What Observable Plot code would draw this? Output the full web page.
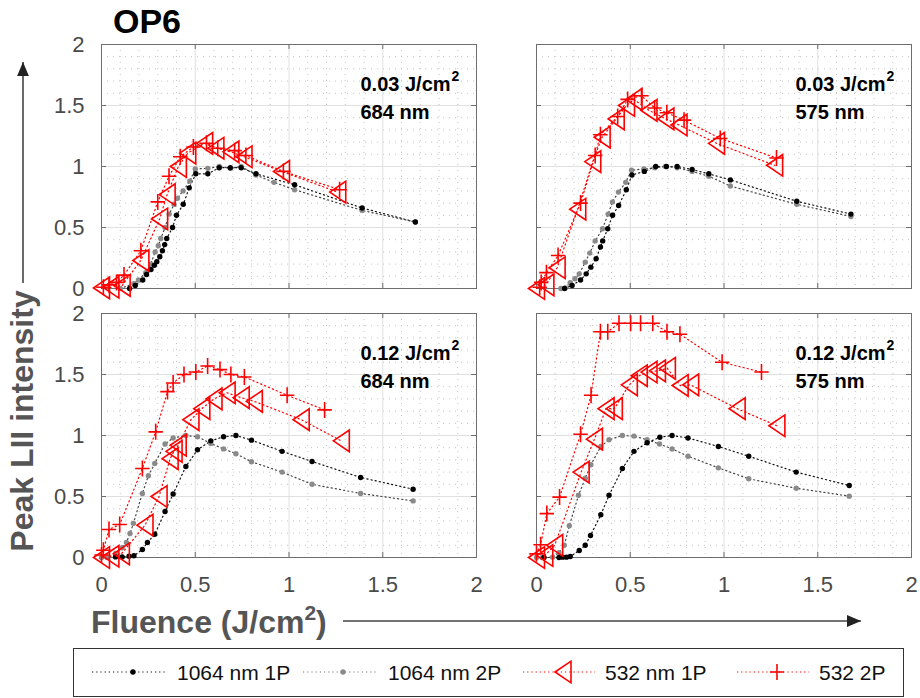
<!DOCTYPE html>
<html><head><meta charset="utf-8">
<script src="https://cdn.jsdelivr.net/npm/d3@7"></script>
<script src="https://cdn.jsdelivr.net/npm/@observablehq/plot@0.6"></script>
<style>
body{margin:0;background:#fff;font-family:"Liberation Sans",Arial,sans-serif;}
#wrap{position:relative;width:920px;height:698px;overflow:hidden;}
#overlay{position:absolute;left:0;top:0;pointer-events:none;}
</style></head><body><div id="wrap"></div>
<script>
// ---------- data ----------
const columns = ["684", "575"];            // detection wavelength (nm) per panel column
const rows = ["0.03", "0.12"];             // fluence (J/cm²) per panel row
const seriesNames = ["1064 nm 1P", "1064 nm 2P", "532 nm 1P", "532 2P"];
const xTicks = [0, 0.5, 1, 1.5, 2];
const xTickLabels = ["0", "0.5", "1", "1.5", "2"];
const yTicks = [0, 0.5, 1, 1.5, 2];
const yTickLabels = ["0", "0.5", "1", "1.5", "2"];
const minorTicks = [0.1,0.2,0.3,0.4,0.6,0.7,0.8,0.9,1.1,1.2,1.3,1.4,1.6,1.7,1.8,1.9];

// row 0.03 J/cm², column 684 nm
const f003_684_1064_1P = [[0.15,0.0],[0.18,0.025],[0.22,0.07],[0.24,0.115],[0.264,0.156],[0.282,0.19],[0.295,0.22],[0.311,0.26],[0.325,0.31],[0.337,0.36],[0.348,0.41],[0.379,0.5],[0.40,0.6],[0.436,0.69],[0.468,0.825],[0.503,0.94],[0.567,0.94],[0.628,0.99],[0.687,0.99],[0.745,0.99],[0.824,0.94],[1.03,0.85],[1.39,0.66],[1.674,0.545]];
const f003_684_1064_2P = [[0.1,0.0],[0.173,0.04],[0.197,0.07],[0.236,0.13],[0.263,0.2],[0.286,0.3],[0.303,0.35],[0.316,0.41],[0.339,0.5],[0.361,0.61],[0.387,0.69],[0.405,0.74],[0.435,0.8],[0.471,0.88],[0.50,0.98],[0.567,0.985],[0.628,1.0],[0.687,0.985],[0.745,1.0],[0.824,0.93],[0.92,0.87],[1.03,0.81],[1.39,0.64],[1.674,0.545]];
const f003_684_532_1P = [[0.0,0.005],[0.05,0.01],[0.11,0.025],[0.21,0.23],[0.31,0.57],[0.35,0.77],[0.41,1.0],[0.46,1.11],[0.55,1.19],[0.61,1.15],[0.69,1.12],[0.76,1.08],[0.96,0.96],[1.26,0.79]];
const f003_684_532_2P = [[0.01,0.01],[0.04,0.03],[0.08,0.05],[0.12,0.11],[0.21,0.31],[0.30,0.71],[0.36,0.92],[0.42,1.08],[0.49,1.16],[0.56,1.19],[0.62,1.15],[0.71,1.13],[0.77,1.09],[0.97,0.96],[1.27,0.81]];

// row 0.03 J/cm², column 575 nm
const f003_575_1064_1P = [[0.15,0.0],[0.19,0.025],[0.235,0.07],[0.265,0.12],[0.29,0.175],[0.318,0.244],[0.341,0.34],[0.353,0.39],[0.38,0.49],[0.406,0.6],[0.438,0.68],[0.479,0.81],[0.509,0.93],[0.575,0.96],[0.636,1.0],[0.693,1.0],[0.75,1.0],[0.83,0.975],[0.919,0.94],[1.034,0.89],[1.388,0.715],[1.677,0.61]];
const f003_575_1064_2P = [[0.13,0.0],[0.153,0.005],[0.18,0.047],[0.205,0.08],[0.228,0.12],[0.26,0.216],[0.284,0.29],[0.313,0.39],[0.352,0.49],[0.382,0.61],[0.405,0.71],[0.437,0.79],[0.476,0.87],[0.507,0.97],[0.573,0.98],[0.631,0.99],[0.688,1.0],[0.75,0.99],[0.83,0.96],[0.919,0.92],[1.034,0.84],[1.388,0.69],[1.677,0.59]];
const f003_575_532_1P = [[0.0,0.0],[0.05,0.03],[0.11,0.17],[0.22,0.65],[0.30,1.04],[0.35,1.24],[0.425,1.39],[0.48,1.5],[0.52,1.55],[0.60,1.46],[0.69,1.39],[0.76,1.34],[0.96,1.19],[1.27,1.01]];
const f003_575_532_2P = [[0.017,0.01],[0.025,0.05],[0.053,0.13],[0.115,0.27],[0.235,0.70],[0.313,1.09],[0.341,1.26],[0.433,1.41],[0.486,1.55],[0.56,1.58],[0.63,1.48],[0.695,1.44],[0.787,1.38],[0.98,1.23],[1.28,1.07]];

// row 0.12 J/cm², column 684 nm
const f012_684_1064_1P = [[0.075,0.005],[0.11,0.005],[0.147,0.01],[0.173,0.014],[0.218,0.066],[0.245,0.123],[0.284,0.19],[0.339,0.377],[0.382,0.52],[0.45,0.746],[0.512,0.883],[0.583,0.956],[0.651,0.99],[0.717,1.0],[0.80,0.962],[0.963,0.87],[1.123,0.787],[1.382,0.656],[1.662,0.56]];
const f012_684_1064_2P = [[0.0,0.0],[0.03,0.0],[0.075,0.033],[0.11,0.08],[0.133,0.123],[0.152,0.197],[0.17,0.28],[0.218,0.525],[0.25,0.67],[0.284,0.77],[0.339,0.93],[0.382,0.98],[0.45,1.0],[0.512,0.99],[0.583,0.935],[0.651,0.89],[0.717,0.85],[0.80,0.785],[0.963,0.70],[1.123,0.60],[1.382,0.525],[1.662,0.464]];
const f012_684_532_1P = [[0.0,0.0],[0.05,0.01],[0.106,0.03],[0.232,0.265],[0.307,0.50],[0.366,0.81],[0.387,0.87],[0.409,0.92],[0.477,1.13],[0.535,1.22],[0.60,1.30],[0.67,1.35],[0.745,1.31],[0.815,1.28],[1.065,1.13],[1.279,0.956]];
const f012_684_532_2P = [[0.0,0.02],[0.01,0.06],[0.04,0.23],[0.097,0.27],[0.218,0.73],[0.289,1.03],[0.352,1.36],[0.382,1.43],[0.44,1.5],[0.503,1.52],[0.566,1.57],[0.632,1.54],[0.69,1.5],[0.762,1.48],[0.99,1.33],[1.19,1.21]];

// row 0.12 J/cm², column 575 nm
const f012_575_1064_1P = [[0.04,0.0],[0.12,0.0],[0.14,0.003],[0.16,0.003],[0.18,0.008],[0.228,0.057],[0.26,0.10],[0.288,0.18],[0.343,0.35],[0.387,0.51],[0.458,0.73],[0.52,0.87],[0.59,0.94],[0.658,0.986],[0.723,1.0],[0.808,0.98],[0.97,0.91],[1.132,0.83],[1.385,0.70],[1.668,0.59]];
const f012_575_1064_2P = [[0.0,0.0],[0.03,0.0],[0.086,0.003],[0.12,0.04],[0.148,0.10],[0.175,0.26],[0.224,0.51],[0.26,0.65],[0.29,0.76],[0.343,0.91],[0.387,0.965],[0.458,1.0],[0.52,0.995],[0.59,0.965],[0.656,0.93],[0.723,0.89],[0.808,0.83],[0.97,0.735],[1.132,0.645],[1.385,0.568],[1.668,0.503]];
const f012_575_532_1P = [[0.0,0.0],[0.044,0.016],[0.097,0.10],[0.238,0.70],[0.309,0.97],[0.371,1.22],[0.415,1.22],[0.495,1.415],[0.548,1.49],[0.60,1.52],[0.645,1.53],[0.698,1.55],[0.766,1.41],[0.822,1.415],[1.07,1.22],[1.282,1.08]];
const f012_575_532_2P = [[0.0,0.03],[0.022,0.104],[0.055,0.36],[0.123,0.495],[0.235,1.01],[0.291,1.33],[0.341,1.85],[0.38,1.85],[0.44,1.92],[0.502,1.92],[0.555,1.92],[0.62,1.92],[0.696,1.85],[0.765,1.83],[0.99,1.60],[1.20,1.52]];

// ---------- tables built from the arrays ----------
const panelInfo = [
  {row: rows[0], col: columns[0], fluence: rows[0] + " J/cm", wave: columns[0] + " nm"},
  {row: rows[0], col: columns[1], fluence: rows[0] + " J/cm", wave: columns[1] + " nm"},
  {row: rows[1], col: columns[0], fluence: rows[1] + " J/cm", wave: columns[0] + " nm"},
  {row: rows[1], col: columns[1], fluence: rows[1] + " J/cm", wave: columns[1] + " nm"}
];
const sources = [
  [rows[0], columns[0], [f003_684_1064_1P, f003_684_1064_2P, f003_684_532_1P, f003_684_532_2P]],
  [rows[0], columns[1], [f003_575_1064_1P, f003_575_1064_2P, f003_575_532_1P, f003_575_532_2P]],
  [rows[1], columns[0], [f012_684_1064_1P, f012_684_1064_2P, f012_684_532_1P, f012_684_532_2P]],
  [rows[1], columns[1], [f012_575_1064_1P, f012_575_1064_2P, f012_575_532_1P, f012_575_532_2P]]
];
const table = [];
for (const [row, col, arrs] of sources) {
  arrs.forEach((pts, si) => pts.forEach(([x, y]) => table.push({row, col, series: seriesNames[si], x, y})));
}
const only = (s) => table.filter(d => d.series === s);

// custom marker shapes (MATLAB-like '<' and '+')
const triLeft = {draw(ctx, size) { const r = Math.sqrt(size / Math.PI); const w = r, h = r * 1.35;
  ctx.moveTo(-w, 0); ctx.lineTo(w, -h); ctx.lineTo(w, h); ctx.closePath(); }};
const plusSym = {draw(ctx, size) { const r = Math.sqrt(size / Math.PI);
  ctx.moveTo(-r * 0.9, 0); ctx.lineTo(r * 0.9, 0); ctx.moveTo(0, -r); ctx.lineTo(0, r); }};

const dash = "1.2,3";
const frameStroke = "#6e6e6e";
const common = {x: "x", y: "y", fx: "col", fy: "row"};
const annot = {fx: "col", fy: "row", frameAnchor: "top-left", textAnchor: "start", lineAnchor: "middle", fontWeight: "bold", fill: "#000"};

const chart = Plot.plot({
  width: 920, height: 645,
  marginTop: 44, marginBottom: 88, marginLeft: 101, marginRight: 9,
  style: {fontFamily: "'Liberation Sans', Arial, sans-serif", fontSize: "22px", background: "white", overflow: "visible"},
  fx: {domain: columns, paddingInner: 60 / 435, paddingOuter: 0, round: false, axis: null},
  fy: {domain: rows, paddingInner: 25 / 269, paddingOuter: 0, round: false, axis: null},
  x: {domain: [0, 2]},
  y: {domain: [0, 2]},
  marks: [
    Plot.gridX({ticks: minorTicks, stroke: "#c4c4c4", strokeOpacity: 1, strokeDasharray: "1,5"}),
    Plot.gridY({ticks: minorTicks, stroke: "#c4c4c4", strokeOpacity: 1, strokeDasharray: "1,5"}),
    Plot.gridX({ticks: xTicks, stroke: "#e0e0e0", strokeOpacity: 1}),
    Plot.gridY({ticks: yTicks, stroke: "#e0e0e0", strokeOpacity: 1}),
    Plot.frame({stroke: frameStroke}),
    Plot.tickX(xTicks, {x: d => d, insetTop: 239, stroke: frameStroke}),
    Plot.tickX(xTicks, {x: d => d, insetBottom: 239, stroke: frameStroke}),
    Plot.tickY(yTicks, {y: d => d, insetRight: 370, stroke: frameStroke}),
    Plot.tickY(yTicks, {y: d => d, insetLeft: 370, stroke: frameStroke}),
    Plot.axisX({ticks: xTicks, tickFormat: (d, i) => xTickLabels[i], tickSize: 0, tickPadding: 19, label: null, color: "#4a4a4a"}),
    Plot.axisY({ticks: yTicks, tickFormat: (d, i) => yTickLabels[i], tickSize: 0, tickPadding: 17, label: null, color: "#4a4a4a"}),
    // lines
    Plot.line(only(seriesNames[0]), {...common, stroke: "#111", strokeWidth: 1.2, strokeDasharray: dash}),
    Plot.line(only(seriesNames[1]), {...common, stroke: "#444", strokeWidth: 1.2, strokeDasharray: dash}),
    Plot.line(only(seriesNames[2]), {...common, stroke: "#ff0000", strokeWidth: 1.2, strokeDasharray: dash}),
    Plot.line(only(seriesNames[3]), {...common, stroke: "#ff0000", strokeWidth: 1.2, strokeDasharray: dash}),
    // markers
    Plot.dot(only(seriesNames[1]), {...common, r: 2.7, fill: "#8a8a8a", stroke: null}),
    Plot.dot(only(seriesNames[0]), {...common, r: 2.7, fill: "#000", stroke: null}),
    Plot.dot(only(seriesNames[2]), {...common, r: 8, symbol: triLeft, fill: "none", stroke: "#ff0000", strokeWidth: 1.6}),
    Plot.dot(only(seriesNames[3]), {...common, r: 8, symbol: plusSym, fill: "none", stroke: "#ff0000", strokeWidth: 1.6}),
    // panel annotations
    Plot.text(panelInfo, {...annot, text: "fluence", dx: 259, dy: 40, fontSize: 20}),
    Plot.text(panelInfo, {...annot, text: () => "2", dx: 350, dy: 32, fontSize: 14}),
    Plot.text(panelInfo, {...annot, text: "wave", dx: 259, dy: 68, fontSize: 20})
  ]
});

const wrap = document.getElementById("wrap");
wrap.appendChild(chart);

// overlay: title, axis titles and arrows
const ov = d3.select(wrap).append("svg").attr("id", "overlay").attr("width", 920).attr("height", 645)
  .style("font-family", "'Liberation Sans', Arial, sans-serif");
const defs = ov.append("defs");
defs.append("marker").attr("id", "ah").attr("viewBox", "0 0 10 10").attr("refX", 10).attr("refY", 5)
  .attr("markerWidth", 14).attr("markerHeight", 14).attr("markerUnits", "userSpaceOnUse").attr("orient", "auto")
  .append("path").attr("d", "M0,0.8 L10,5 L0,9.2 Z").attr("fill", "#222");
ov.append("text").attr("x", 113).attr("y", 33).attr("font-size", 34).attr("font-weight", "bold").attr("fill", "#000").text("OP6");
ov.append("text").attr("transform", "translate(33,421) rotate(-90)").attr("text-anchor", "middle")
  .attr("font-size", 32).attr("font-weight", "bold").attr("fill", "#555").text("Peak LII intensity");
ov.append("line").attr("x1", 23).attr("y1", 283).attr("x2", 23).attr("y2", 62)
  .attr("stroke", "#444").attr("stroke-width", 1.6).attr("marker-end", "url(#ah)");
const xl = ov.append("text").attr("x", 91).attr("y", 633).attr("font-size", 32).attr("font-weight", "bold").attr("fill", "#555");
xl.append("tspan").text("Fluence (J/cm");
xl.append("tspan").attr("dy", -13).attr("font-size", 21).text("2");
xl.append("tspan").attr("dy", 13).text(")");
ov.append("line").attr("x1", 343).attr("y1", 621).attr("x2", 861).attr("y2", 621)
  .attr("stroke", "#444").attr("stroke-width", 1.6).attr("marker-end", "url(#ah)");

// legend below the plot
const lg = d3.select(wrap).append("svg").attr("width", 920).attr("height", 53).style("display", "block")
  .style("font-family", "'Liberation Sans', Arial, sans-serif");
lg.append("rect").attr("x", 73.5).attr("y", 3.5).attr("width", 830).attr("height", 48).attr("fill", "white").attr("stroke", "#333");
const legendItems = [
  {name: seriesNames[0], x0: 92, x1: 167, mx: 133, color: "#111", kind: "dot", fill: "#000"},
  {name: seriesNames[1], x0: 303, x1: 378, mx: 343, color: "#777", kind: "dot", fill: "#8a8a8a"},
  {name: seriesNames[2], x0: 523, x1: 595, mx: 563, color: "#ff0000", kind: "tri"},
  {name: seriesNames[3], x0: 737, x1: 809, mx: 777, color: "#ff0000", kind: "plus"}
];
const ly = 27;
for (const it of legendItems) {
  lg.append("line").attr("x1", it.x0).attr("x2", it.x1).attr("y1", ly).attr("y2", ly)
    .attr("stroke", it.color).attr("stroke-width", 1.2).attr("stroke-dasharray", dash);
  if (it.kind === "dot") lg.append("circle").attr("cx", it.mx).attr("cy", ly).attr("r", 2.7).attr("fill", it.fill);
  if (it.kind === "tri") lg.append("path").attr("d", `M${it.mx - 8},${ly} L${it.mx + 8},${ly - 10.8} L${it.mx + 8},${ly + 10.8} Z`)
    .attr("fill", "none").attr("stroke", "#ff0000").attr("stroke-width", 1.6);
  if (it.kind === "plus") lg.append("path").attr("d", `M${it.mx - 7},${ly} H${it.mx + 7} M${it.mx},${ly - 8} V${ly + 8}`)
    .attr("stroke", "#ff0000").attr("stroke-width", 1.6);
  lg.append("text").attr("x", it.x1 + 10).attr("y", ly + 7.5).attr("font-size", 21).attr("fill", "#111").text(it.name);
}
</script>
</body></html>
